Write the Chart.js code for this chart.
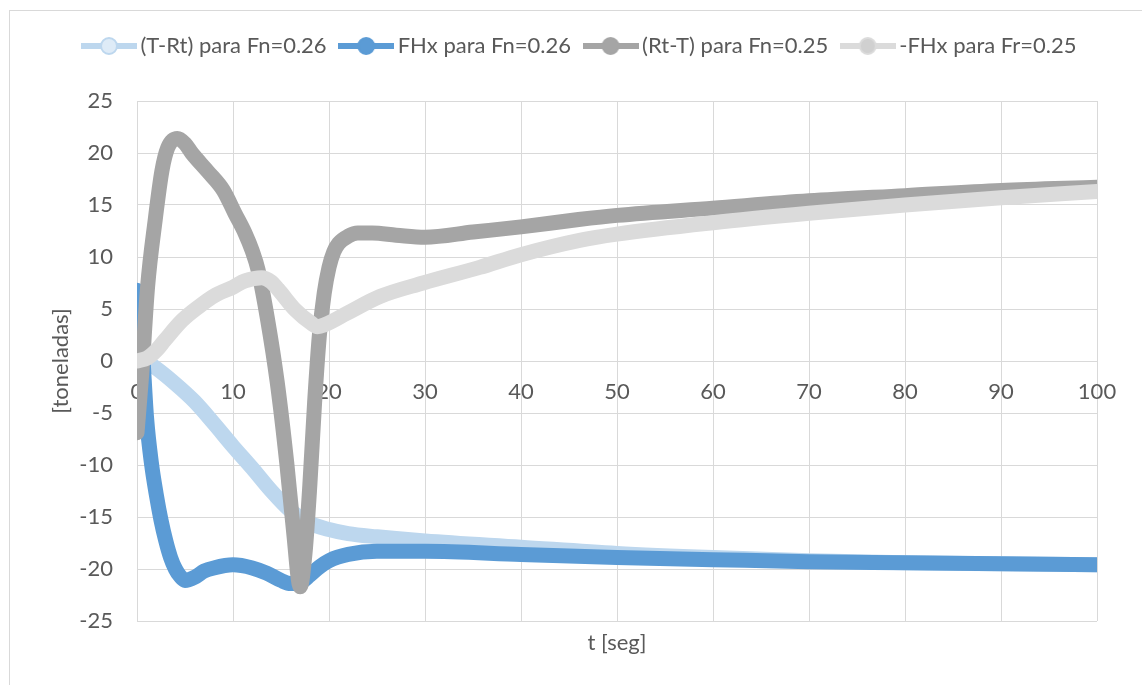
<!DOCTYPE html>
<html>
<head>
<meta charset="utf-8">
<script src="https://cdn.jsdelivr.net/npm/chart.js@4.4.1/dist/chart.umd.min.js"></script>
<style>
  html, body { margin: 0; padding: 0; background: #fff; }
  #wrap { position: relative; width: 1142px; height: 685px; overflow: hidden; }
  #frame { position: absolute; left: 9px; top: 10px; width: 1200px; height: 800px; border: 1px solid #d9d9d9; box-sizing: border-box; }
  canvas { position: absolute; left: 0; top: 0; }
</style>
</head>
<body>
<div id="wrap">
  <div id="frame"></div>
  <canvas id="chart" width="1142" height="685"></canvas>
</div>
<script>
// (T-Rt) para Fn=0.26
const tTRt = [0, 1, 2, 4, 6, 8, 10, 12, 14, 16, 18, 20, 22, 25, 30, 40, 50, 60, 70, 80, 90, 100];
const vTRt = [0, -0.1, -0.7, -2.2, -3.9, -6.0, -8.2, -10.3, -12.5, -14.4, -15.6, -16.2, -16.6, -16.9, -17.3, -17.9, -18.5, -18.9, -19.2, -19.4, -19.5, -19.6];

// FHx para Fn=0.26
const tFHx = [0, 0.5, 1, 1.5, 2, 2.5, 3, 3.5, 4, 4.5, 5, 6, 7, 8, 10, 12, 13.5, 15, 16, 17, 18, 19, 20, 22, 25, 30, 40, 50, 60, 70, 80, 90, 100];
const vFHx = [6.8, 2.0, -5.5, -9.8, -12.8, -15.3, -17.3, -18.9, -20.0, -20.7, -21.1, -20.8, -20.2, -19.9, -19.6, -19.9, -20.4, -21.1, -21.4, -21.3, -20.6, -19.8, -19.2, -18.6, -18.3, -18.3, -18.6, -18.9, -19.1, -19.3, -19.4, -19.5, -19.6];

// (Rt-T) para Fn=0.25
const tRtT = [0, 0.5, 1.1, 1.9, 2.6, 3.2, 4.2, 5, 5.7, 7.4, 9, 10.2, 11.25, 12, 12.6, 13.6, 14.6, 15.6, 16.3, 17, 17.5, 18, 18.5, 19, 19.5, 20, 20.5, 21, 22, 23, 24.5, 27, 30, 35, 40, 46, 50, 60, 70, 80, 90, 100];
const vRtT = [-6.9, -1.2, 7.1, 13.6, 18.3, 20.5, 21.4, 20.9, 20.0, 18.2, 16.4, 14.2, 12.3, 10.6, 8.8, 4.0, -2.0, -9.8, -16.3, -21.7, -18.5, -12.0, -4.0, 2.5, 6.5, 9.0, 10.5, 11.3, 12.0, 12.3, 12.3, 12.1, 11.9, 12.4, 12.9, 13.6, 14.0, 14.7, 15.4, 15.9, 16.4, 16.7];

// -FHx para Fr=0.25
const tNegFHx = [0, 1.1, 2, 2.9, 4.7, 6.4, 8.1, 10, 11.25, 13, 14, 14.7, 16.5, 18.2, 18.8, 19.6, 21.9, 25.3, 29.8, 35.7, 39.9, 46.1, 50, 60, 70, 80, 90, 100];
const vNegFHx = [0, 0.3, 1.0, 2.0, 3.9, 5.2, 6.3, 7.1, 7.7, 8.0, 7.6, 6.9, 4.9, 3.6, 3.3, 3.5, 4.6, 6.2, 7.5, 9.0, 10.2, 11.6, 12.2, 13.3, 14.2, 15.0, 15.7, 16.3];

const seriesLabels = ["(T-Rt) para Fn=0.26", "FHx para Fn=0.26", "(Rt-T) para Fn=0.25", "-FHx para Fr=0.25"];
const colors = ['#BDD7EE', '#5B9BD5', '#A5A5A5', '#DBDBDB'];
const markerFills = ['#DEEBF7', '#5B9BD5', '#A5A5A5', '#D0D0D0'];

const textColor = '#595959';
const gridColor = '#D9D9D9';
const font = { family: 'Lato', size: 22 };

function toPoints(ts, vs) {
  return ts.map((t, i) => ({ x: t, y: vs[i] }));
}

// legend symbol: short line with a circle in the middle
function makeMarker(color, fill) {
  const c = document.createElement('canvas');
  c.width = 56; c.height = 22;
  const g = c.getContext('2d');
  g.strokeStyle = color;
  g.lineWidth = 6;
  g.beginPath(); g.moveTo(0, 11); g.lineTo(56, 11); g.stroke();
  g.beginPath(); g.arc(28, 11, 8, 0, Math.PI * 2);
  g.fillStyle = fill; g.fill();
  g.lineWidth = 2; g.stroke();
  return c;
}
const markers = colors.map((c, i) => makeMarker(c, markerFills[i]));

const allT = [tTRt, tFHx, tRtT, tNegFHx];
const allV = [vTRt, vFHx, vRtT, vNegFHx];

const datasets = seriesLabels.map((label, i) => ({
  label: label,
  data: toPoints(allT[i], allV[i]),
  borderColor: colors[i],
  backgroundColor: colors[i],
  borderWidth: 15,
  borderCapStyle: 'round',
  borderJoinStyle: 'round',
  pointRadius: 0,
  pointHoverRadius: 0,
  showLine: true,
  fill: false,
  cubicInterpolationMode: 'monotone',
  order: 4 - i  // later series on top, like the original
}));

// push the plot area down below the legend, and nudge the legend right a bit
const legendSpacer = {
  id: 'legendSpacer',
  beforeInit(chart) {
    const origFit = chart.legend.fit;
    chart.legend.fit = function () {
      origFit.bind(chart.legend)();
      this.height += 34;
    };
  },
  afterLayout(chart) {
    chart.legend.left += 10;
    chart.legend.right += 10;
  }
};

const ctx = document.getElementById('chart').getContext('2d');
new Chart(ctx, {
  type: 'scatter',
  data: { datasets: datasets },
  plugins: [legendSpacer],
  options: {
    responsive: false,
    animation: false,
    layout: { padding: { top: 16, left: 48, right: 45, bottom: 29 } },
    plugins: {
      tooltip: { enabled: false },
      legend: {
        position: 'top',
        labels: {
          usePointStyle: true,
          pointStyleWidth: 41,
          padding: 19,
          color: textColor,
          font: font,
          generateLabels: chart => chart.data.datasets.map((ds, i) => ({
            text: ds.label,
            pointStyle: markers[i],
            fillStyle: ds.borderColor,
            strokeStyle: ds.borderColor,
            lineWidth: 0,
            hidden: false,
            datasetIndex: i,
            fontColor: textColor
          }))
        }
      }
    },
    scales: {
      x: {
        type: 'linear', min: 0, max: 100, position: 'bottom',
        ticks: { display: false, stepSize: 10 },
        grid: { color: gridColor, lineWidth: 1, drawTicks: false },
        border: { display: false },
        title: { display: true, text: 't [seg]', color: textColor, font: font, padding: 0 },
        afterFit: s => { s.height = 35; }
      },
      x2: {
        type: 'linear', min: 0, max: 100, position: { y: 0 },
        ticks: { stepSize: 10, color: textColor, font: font, padding: 18 },
        grid: { display: false, drawTicks: false },
        border: { display: false }
      },
      y: {
        type: 'linear', min: -25, max: 25,
        ticks: { stepSize: 5, color: textColor, font: font, padding: 24 },
        grid: { color: gridColor, lineWidth: 1, drawTicks: false },
        border: { display: false },
        title: { display: true, text: '[toneladas]', color: textColor, font: font, padding: 0 },
        afterFit: s => { s.width = 89; }
      }
    }
  }
});
</script>
</body>
</html>
